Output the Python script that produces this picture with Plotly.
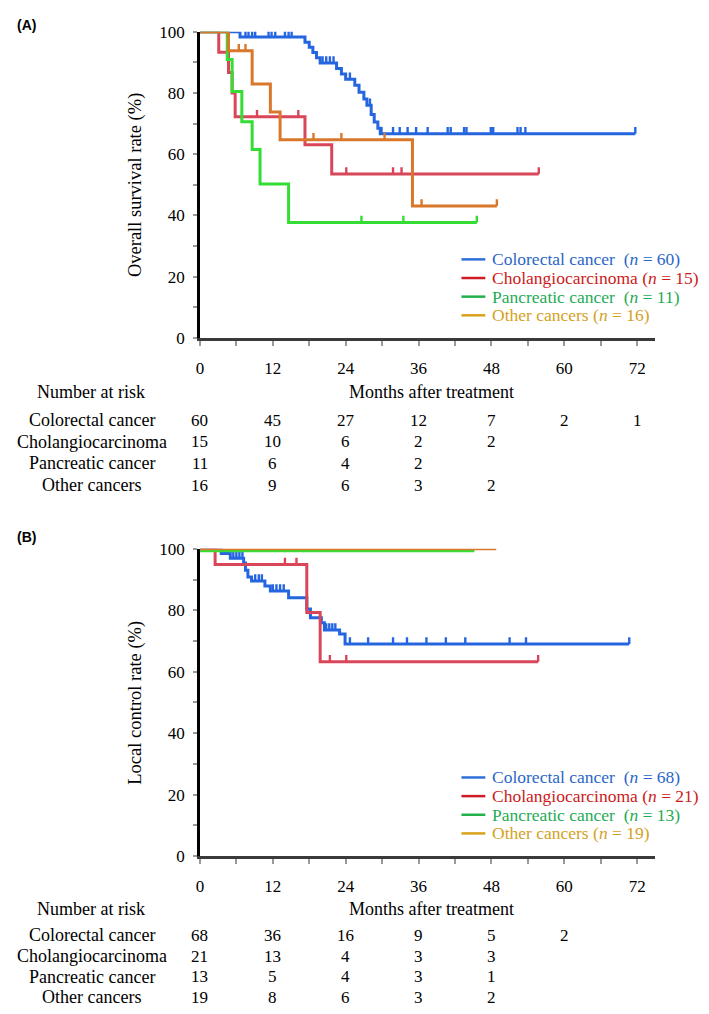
import plotly.graph_objects as go

W, H = 709, 1014
SERIF = "Liberation Serif"

GROUPS = ["Colorectal cancer", "Cholangiocarcinoma", "Pancreatic cancer", "Other cancers"]
CURVE_COLORS = ["#2566e0", "#d9465a", "#33dd33", "#d9782b"]
LEG_LINE_COLORS = ["#2f6fd8", "#d01c28", "#22b04b", "#d8a21a"]
LEG_TEXT_COLORS = ["#2a66c8", "#cc1a1a", "#1faa55", "#d4a11e"]

MONTH_TICKS = [0, 12, 24, 36, 48, 60, 72]

# ---------------- Panel A: overall survival ----------------
os_crc_t = [0, 6.6, 17.3, 18.0, 18.6, 19.2, 19.8, 22.5, 23.3, 24.0, 25.5, 26.2, 27.0, 27.5, 28.2, 28.7, 29.3, 29.7, 71.7]
os_crc_s = [100, 98.3, 96.6, 94.9, 93.2, 91.5, 89.8, 88.0, 86.2, 84.5, 82.5, 80.2, 78.0, 76.0, 73.0, 70.5, 68.5, 66.7, 66.7]
os_crc_c = [7.5, 8.0, 8.6, 9.1, 11.3, 11.8, 12.4, 14.0, 14.6, 15.1, 20.2, 20.8, 21.4, 22.0, 24.7, 28.0,
            29.9, 31.8, 32.9, 34.2, 35.6, 37.5, 40.8, 41.3, 43.5, 43.9, 47.9, 48.3, 52.3, 52.8, 53.6, 71.7]

os_cca_t = [0, 3.1, 4.7, 5.3, 5.8, 17.3, 21.7, 55.8]
os_cca_s = [100, 93.3, 86.7, 80.0, 72.2, 63.1, 53.5, 53.5]
os_cca_c = [9.4, 16.2, 24.1, 31.8, 33.2, 55.8]

os_pan_t = [0, 4.5, 5.3, 6.9, 8.6, 9.9, 14.6, 45.6]
os_pan_s = [100, 90.9, 80.5, 70.6, 61.5, 50.3, 37.7, 37.7]
os_pan_c = [26.6, 33.5, 45.6]

os_oth_t = [0, 4.7, 8.6, 11.6, 13.2, 35.0, 48.9]
os_oth_s = [100, 93.8, 82.9, 73.8, 64.7, 43.1, 43.1]
os_oth_c = [6.4, 7.5, 18.7, 23.3, 30.4, 36.5, 48.9]

os_n = [60, 15, 11, 16]
os_risk = [
    [60, 45, 27, 12, 7, 2, 1],
    [15, 10, 6, 2, 2],
    [11, 6, 4, 2],
    [16, 9, 6, 3, 2],
]

# ---------------- Panel B: local control ----------------
lc_crc_t = [0, 3.5, 5.0, 7.2, 7.5, 7.9, 8.5, 10.7, 11.6, 14.6, 17.6, 18.2, 20.0, 20.5, 23.0, 23.9, 70.7]
lc_crc_s = [100, 98.5, 96.9, 95.4, 93.0, 90.8, 89.5, 87.9, 86.3, 84.1, 80.4, 77.6, 75.9, 73.6, 72.3, 69.0, 69.0]
lc_crc_c = [5.5, 6.0, 6.5, 7.0, 9.1, 9.7, 10.2, 12.0, 12.6, 13.2, 13.8, 20.8, 21.3, 21.8, 22.3, 24.7, 27.7,
            31.8, 34.1, 37.3, 40.5, 43.7, 51.0, 53.7, 70.7]

lc_cca_t = [0, 2.5, 17.6, 19.8, 55.7]
lc_cca_s = [100, 94.9, 79.3, 63.2, 63.2]
lc_cca_c = [14.0, 15.9, 21.4, 24.1, 55.7]

lc_pan_t = [0, 45.2]
lc_pan_s = [99.4, 99.4]
lc_pan_c = []

lc_oth_t = [0, 48.8]
lc_oth_s = [100, 100]
lc_oth_c = []

lc_n = [68, 21, 13, 19]
lc_risk = [
    [68, 36, 16, 9, 5, 2],
    [21, 13, 4, 3, 3],
    [13, 5, 4, 3, 1],
    [19, 8, 6, 3, 2],
]

PANELS = [
    dict(tag="(A)", ytitle="Overall survival rate (%)",
         series=[(os_crc_t, os_crc_s, os_crc_c), (os_cca_t, os_cca_s, os_cca_c),
                 (os_pan_t, os_pan_s, os_pan_c), (os_oth_t, os_oth_s, os_oth_c)],
         n=os_n, risk=os_risk,
         top=15, bottom=327, tagy=8, legy=247, ticky=354, monthsy=382, rowy=[411, 433, 455, 477]),
    dict(tag="(B)", ytitle="Local control rate (%)",
         series=[(lc_crc_t, lc_crc_s, lc_crc_c), (lc_cca_t, lc_cca_s, lc_cca_c),
                 (lc_pan_t, lc_pan_s, lc_pan_c), (lc_oth_t, lc_oth_s, lc_oth_c)],
         n=lc_n, risk=lc_risk,
         top=542, bottom=855, tagy=530, legy=775, ticky=882, monthsy=909, rowy=[936, 957, 978, 999]),
]

X0, X1 = 189, 647


def px(x):
    return x / W


def py(y):
    return 1 - y / H


def step_value(ts, ss, c):
    v = ss[0]
    for t, s in zip(ts, ss):
        if t <= c:
            v = s
    return v


fig = go.Figure()
annotations = []
shapes = []

for pi, P in enumerate(PANELS):
    xa = "x" if pi == 0 else "x2"
    ya = "y" if pi == 0 else "y2"
    for gi, (ts, ss, cs) in enumerate(P["series"]):
        col = CURVE_COLORS[gi]
        fig.add_trace(go.Scatter(x=ts, y=ss, mode="lines", line=dict(color=col, width=3, shape="hv"),
                                 xaxis=xa, yaxis=ya, showlegend=False, cliponaxis=False,
                                 hoverinfo="skip"))
        if cs:
            cy = [step_value(ts, ss, c) for c in cs]
            fig.add_trace(go.Scatter(x=cs, y=cy, mode="markers",
                                     marker=dict(size=1, color=col, opacity=0),
                                     error_y=dict(type="constant", value=2.2, valueminus=0, symmetric=False,
                                                  width=0, thickness=2.4, color=col),
                                     xaxis=xa, yaxis=ya, showlegend=False, cliponaxis=False,
                                     hoverinfo="skip"))

    # legend (drawn manually)
    for gi in range(4):
        yy = P["legy"] + 19 * gi
        shapes.append(dict(type="line", xref="paper", yref="paper", x0=px(452), x1=px(476),
                           y0=py(yy), y1=py(yy), line=dict(color=LEG_LINE_COLORS[gi], width=2.5)))
        sp = "&nbsp;&nbsp;" if gi in (0, 2) else " "
        annotations.append(dict(xref="paper", yref="paper", x=px(481), y=py(yy), xanchor="left",
                                yanchor="middle", showarrow=False,
                                text=f"{GROUPS[gi]}{sp}(<i>n</i> = {P['n'][gi]})",
                                font=dict(family=SERIF, size=17.5, color=LEG_TEXT_COLORS[gi])))

    # panel tag
    annotations.append(dict(xref="paper", yref="paper", x=px(3), y=py(P["tagy"]), xanchor="left",
                            yanchor="middle", showarrow=False, text=f"<b>{P['tag']}</b>",
                            font=dict(family="Liberation Sans", size=14, color="black")))
    # y title
    annotations.append(dict(xref="paper", yref="paper", x=px(124), y=py((P["top"] + P["bottom"]) / 2),
                            xanchor="center", yanchor="middle", showarrow=False, textangle=-90,
                            text=P["ytitle"], font=dict(family=SERIF, size=18.5, color="black")))
    # number at risk header + x title
    annotations.append(dict(xref="paper", yref="paper", x=px(79), y=py(P["monthsy"]), xanchor="center",
                            yanchor="middle", showarrow=False, text="Number at risk",
                            font=dict(family=SERIF, size=18, color="black")))
    annotations.append(dict(xref="paper", yref="paper", x=px(422), y=py(P["monthsy"]), xanchor="center",
                            yanchor="middle", showarrow=False, text="Months after treatment",
                            font=dict(family=SERIF, size=18, color="black")))
    for gi in range(4):
        yy = P["rowy"][gi]
        annotations.append(dict(xref="paper", yref="paper", x=px(80), y=py(yy), xanchor="center",
                                yanchor="middle", showarrow=False, text=GROUPS[gi],
                                font=dict(family=SERIF, size=18, color="black")))
        for ti, val in enumerate(P["risk"][gi]):
            annotations.append(dict(xref=xa, yref="paper", x=MONTH_TICKS[ti], y=py(yy), xanchor="center",
                                    yanchor="middle", showarrow=False, text=str(val),
                                    font=dict(family=SERIF, size=17, color="black")))

xtickvals = list(range(0, 73, 6))
xticktext = [str(v) if v % 12 == 0 else "" for v in xtickvals]
ytickvals = list(range(0, 101, 10))
yticktext = [str(v) if v % 20 == 0 else "" for v in ytickvals]


def xaxis_cfg(anchor):
    return dict(domain=[px(X0), px(X1)], range=[0, 75], anchor=anchor, tickvals=xtickvals, ticktext=xticktext,
                ticks="outside", ticklen=5, tickwidth=1.5, tickcolor="#9a9a9a", showline=True,
                linecolor="#3a3a3a", linewidth=2.5, showgrid=False, zeroline=False,
                tickfont=dict(family=SERIF, size=17, color="black"), ticklabelstandoff=8)


def yaxis_cfg(anchor, P):
    return dict(domain=[py(P["bottom"]), py(P["top"])], range=[0, 100], anchor=anchor, tickvals=ytickvals,
                ticktext=yticktext, ticks="outside", ticklen=4, tickwidth=1.5, tickcolor="#9a9a9a",
                showline=True, linecolor="black", linewidth=2.5, showgrid=False, zeroline=False,
                tickfont=dict(family=SERIF, size=17, color="black"), ticklabelstandoff=5)


fig.update_layout(
    width=W, height=H, margin=dict(l=0, r=0, t=0, b=0),
    font=dict(family=SERIF, color="black"),
    paper_bgcolor="white", plot_bgcolor="white", showlegend=False,
    xaxis=xaxis_cfg("y"), yaxis=yaxis_cfg("x", PANELS[0]),
    xaxis2=xaxis_cfg("y2"), yaxis2=yaxis_cfg("x2", PANELS[1]),
    annotations=annotations, shapes=shapes,
)

fig.write_html("out.html")
